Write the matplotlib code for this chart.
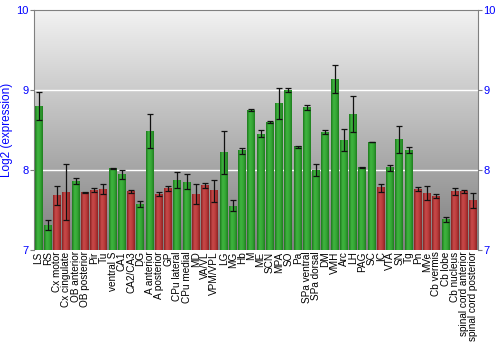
import matplotlib
matplotlib.use("Agg")
import matplotlib.pyplot as plt
import numpy as np
from matplotlib.colors import LinearSegmentedColormap

plt.rcParams["font.family"] = ["Liberation Sans", "DejaVu Sans"]

regions = [
    "LS", "RS", "Cx motor", "Cx cingulate", "OB anterior", "OB posterior",
    "Pir", "Tu", "ventral S", "CA1", "CA2/CA3", "DG", "A anterior",
    "A posterior", "GP", "CPu lateral", "CPu medial", "MD", "VA/VL",
    "VPM/VPL", "LG", "MG", "Hb", "M", "ME", "SCN", "MPA", "SO", "Pa",
    "SPa ventral", "SPa dorsal", "DM", "VMH", "Arc", "LH", "PAG", "SC",
    "IC", "VTA", "SN", "Tg", "Pn", "MVe", "Cb vermis", "Cb lobe",
    "Cb nucleus", "spinal cord anterior", "spinal cord posterior",
]
expression = [
    8.79, 7.31, 7.68, 7.72, 7.86, 7.72, 7.75, 7.76, 8.02, 7.94, 7.73, 7.575,
    8.48, 7.70, 7.77, 7.87, 7.85, 7.70, 7.81, 7.74, 8.22, 7.55, 8.24, 8.75,
    8.45, 8.60, 8.83, 9.00, 8.29, 8.78, 8.00, 8.47, 9.13, 8.375, 8.69, 8.03,
    8.35, 7.78, 8.03, 8.38, 8.25, 7.76, 7.71, 7.67, 7.38, 7.73, 7.73, 7.62,
]
err_low = [
    8.62, 7.25, 7.56, 7.375, 7.83, 7.71, 7.72, 7.70, 8.01, 7.89, 7.71, 7.54,
    8.27, 7.67, 7.74, 7.77, 7.76, 7.57, 7.78, 7.60, 7.95, 7.49, 8.20, 8.74,
    8.41, 8.59, 8.64, 8.98, 8.28, 8.75, 7.925, 8.45, 8.96, 8.24, 8.47, 8.02,
    8.345, 7.72, 7.99, 8.21, 8.21, 7.74, 7.625, 7.65, 7.35, 7.69, 7.71, 7.53,
]
err_high = [
    8.97, 7.375, 7.80, 8.08, 7.90, 7.73, 7.78, 7.83, 8.03, 8.00, 7.75, 7.61,
    8.70, 7.72, 7.80, 7.97, 7.95, 7.82, 7.84, 7.875, 8.49, 7.62, 8.28, 8.76,
    8.50, 8.61, 9.025, 9.02, 8.30, 8.81, 8.08, 8.50, 9.31, 8.51, 8.92, 8.04,
    8.355, 7.83, 8.06, 8.55, 8.29, 7.79, 7.80, 7.70, 7.41, 7.77, 7.75, 7.71,
]
enriched = [
    1, 1, 0, 0, 1, 0, 0, 0, 1, 1, 0, 1, 1, 0, 0, 1, 1, 0, 0, 0, 1, 1, 1, 1,
    1, 1, 1, 1, 1, 1, 1, 1, 1, 1, 1, 1, 1, 0, 1, 1, 1, 0, 0, 0, 1, 0, 0, 0,
]

green_cmap = LinearSegmentedColormap.from_list(
    "g", ["#1d7a1d", "#3fb53f", "#36a836", "#1f7f1f"])
red_cmap = LinearSegmentedColormap.from_list(
    "r", ["#8a2222", "#c94a4a", "#bb3c3c", "#8e2424"])

fig = plt.figure(figsize=(5, 3.5), dpi=100)
ax = fig.add_axes([0.068, 0.2857, 0.888, 0.6857])

x = np.arange(len(regions))
ax.set_xlim(-0.5, len(regions) - 0.5)
ax.set_ylim(7, 10)

# background gradient, light at top, darker at bottom
bg = np.linspace(0, 1, 256).reshape(-1, 1)
bg_cmap = LinearSegmentedColormap.from_list("bg", ["#7e7e7e", "#f2f2f2"])
ax.imshow(bg, cmap=bg_cmap, extent=[-0.5, len(regions) - 0.5, 7, 10],
          origin="lower", aspect="auto", zorder=0)

for yv in (8, 9):
    ax.axhline(yv, color="white", linewidth=1.0, zorder=1)

bars = ax.bar(x, np.array(expression) - 7, bottom=7, width=0.86,
              color="none", zorder=2)
hgrad = np.linspace(0, 1, 32).reshape(1, -1)
for rect, flag in zip(bars, enriched):
    x0, y0 = rect.get_x(), rect.get_y()
    ax.imshow(hgrad, cmap=green_cmap if flag else red_cmap,
              extent=[x0, x0 + rect.get_width(), y0, y0 + rect.get_height()],
              aspect="auto", zorder=2)

expr = np.array(expression)
yerr = [expr - np.array(err_low), np.array(err_high) - expr]
ax.errorbar(x, expr, yerr=yerr, fmt="none", ecolor="#111111",
            elinewidth=0.9, capsize=2, capthick=0.9, zorder=3)

ax.set_xticks(x)
ax.set_xticklabels(regions, rotation=90, fontsize=7.2)
ax.tick_params(axis="x", length=0, pad=1)

ax.set_yticks([7, 8, 9, 10])
ax.tick_params(axis="y", colors="#808080", labelcolor="blue", labelsize=8,
               length=3, pad=1, right=True, labelright=True)
ax.set_ylabel("Log2 (expression)", color="blue", fontsize=8.5, labelpad=2)

for side in ("left", "right", "top"):
    ax.spines[side].set_color("#808080")
ax.spines["bottom"].set_visible(False)

fig.savefig("out.png", dpi=100)
